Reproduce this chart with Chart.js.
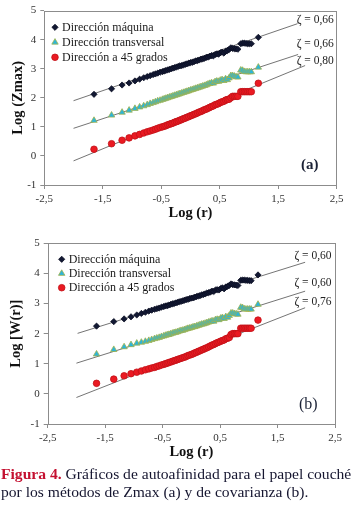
<!DOCTYPE html>
<html><head><meta charset="utf-8">
<script src="https://cdn.jsdelivr.net/npm/chart.js@4.4.1/dist/chart.umd.min.js"></script>
<style>
html,body{margin:0;padding:0;background:#fff;width:356px;height:506px;overflow:hidden;font-family:"Liberation Serif",serif;}
canvas{position:absolute;left:0;}
#ca{top:0;}
#cb{top:230px;}
#cap{position:absolute;left:1px;top:465px;width:356px;font-family:"Liberation Serif",serif;font-size:15.6px;line-height:18.3px;color:#161630;white-space:nowrap;}
#cap b{color:#c41030;}
</style></head>
<body>
<canvas id="ca" width="356" height="228"></canvas>
<canvas id="cb" width="356" height="236"></canvas>
<div id="cap"><b>Figura 4.</b> Gráficos de autoafinidad para el papel couché<br>por los métodos de Zmax (a) y de covarianza (b).</div>
<script>
// ---------- data ----------
const seriesNames = ['Dirección máquina', 'Dirección transversal', 'Dirección a 45 grados'];
const xTickLabels = ['-2,5', '-1,5', '-0,5', '0,5', '1,5', '2,5'];
const yTickLabels = ['-1', '0', '1', '2', '3', '4', '5'];

const logR = [-1.65,-1.35,-1.17,-1.05,-0.95, -0.87,-0.80,-0.74,-0.69,-0.64, -0.60,-0.56,-0.52,-0.48,-0.45,
  -0.42,-0.39,-0.36,-0.33,-0.30, -0.27,-0.24,-0.21,-0.18,-0.15, -0.12,-0.09,-0.06,-0.03,0.00,
  0.03,0.06,0.09,0.12,0.15, 0.18,0.21,0.24,0.27,0.30, 0.33,0.36,0.39,0.42,0.45,
  0.48,0.51,0.54,0.57,0.60, 0.63,0.66,0.69,0.72,0.75, 0.78,0.81,0.86,0.89,0.92, 0.95,0.98,1.01,1.04,1.16];

// (a) Log (Zmax)
const maqA = [2.12,2.31,2.44,2.51,2.58, 2.64,2.69,2.73,2.76,2.80, 2.82,2.85,2.88,2.90,2.92,
  2.94,2.96,2.98,3.00,3.02, 3.04,3.06,3.08,3.10,3.11, 3.13,3.15,3.17,3.19,3.21,
  3.22,3.24,3.27,3.28,3.30, 3.33,3.34,3.36,3.39,3.40, 3.43,3.45,3.44,3.49,3.51,
  3.50,3.55,3.57,3.54,3.60, 3.62,3.66,3.72,3.70,3.69, 3.68,3.67,3.86,3.88,3.88, 3.87,3.86,3.86,3.86,4.08];
const traA = [1.22,1.40,1.50,1.57,1.63, 1.68,1.72,1.76,1.80,1.83, 1.86,1.89,1.91,1.94,1.96,
  1.98,2.00,2.02,2.04,2.06, 2.08,2.10,2.12,2.14,2.16, 2.18,2.20,2.22,2.24,2.26,
  2.28,2.30,2.32,2.34,2.36, 2.38,2.40,2.42,2.44,2.47, 2.49,2.51,2.50,2.55,2.57,
  2.56,2.60,2.62,2.59,2.65, 2.62,2.68,2.76,2.76,2.74, 2.72,2.71,2.95,2.94,2.90, 2.89,2.89,2.89,2.89,3.05];
const d45A = [0.23,0.42,0.54,0.62,0.69, 0.74,0.79,0.83,0.86,0.89, 0.92,0.95,0.98,1.00,1.02,
  1.04,1.07,1.09,1.11,1.13, 1.16,1.18,1.20,1.23,1.25, 1.28,1.30,1.33,1.35,1.38,
  1.40,1.43,1.45,1.48,1.51, 1.53,1.56,1.59,1.61,1.64, 1.67,1.70,1.72,1.76,1.78,
  1.80,1.84,1.86,1.88,1.92, 1.94,1.95,2.00,2.05,2.05, 2.05,2.05,2.21,2.21,2.21, 2.21,2.21,2.21,2.21,2.50];

// (b) Log [W(r)]
const maqB = [2.25,2.40,2.49,2.56,2.62, 2.67,2.71,2.75,2.78,2.81, 2.83,2.85,2.88,2.90,2.92,
  2.93,2.95,2.97,2.99,3.00, 3.02,3.04,3.06,3.07,3.09, 3.11,3.13,3.14,3.16,3.18,
  3.19,3.21,3.23,3.25,3.26, 3.29,3.30,3.32,3.35,3.36, 3.38,3.41,3.40,3.45,3.46,
  3.45,3.50,3.52,3.49,3.55, 3.57,3.60,3.65,3.63,3.62, 3.61,3.60,3.77,3.78,3.78, 3.77,3.77,3.76,3.76,3.95];
const traB = [1.32,1.47,1.56,1.63,1.68, 1.71,1.74,1.77,1.80,1.83, 1.85,1.87,1.90,1.92,1.94,
  1.96,1.97,1.99,2.01,2.03, 2.04,2.06,2.08,2.10,2.11, 2.13,2.15,2.17,2.18,2.20,
  2.22,2.23,2.25,2.27,2.29, 2.31,2.32,2.34,2.36,2.38, 2.40,2.42,2.41,2.46,2.47,
  2.46,2.51,2.53,2.50,2.56, 2.54,2.60,2.68,2.68,2.66, 2.65,2.64,2.87,2.86,2.82, 2.81,2.81,2.81,2.81,2.97];
const d45B = [0.35,0.49,0.60,0.67,0.72, 0.76,0.80,0.83,0.86,0.88, 0.91,0.93,0.96,0.98,1.00,
  1.02,1.04,1.06,1.08,1.10, 1.12,1.14,1.16,1.18,1.20, 1.22,1.24,1.27,1.29,1.31,
  1.33,1.36,1.38,1.41,1.43, 1.46,1.48,1.51,1.53,1.56, 1.59,1.62,1.64,1.67,1.70,
  1.72,1.75,1.77,1.79,1.83, 1.85,1.87,1.97,2.00,2.00, 2.00,2.00,2.18,2.18,2.18, 2.18,2.18,2.18,2.18,2.45];

// fitted power-law lines (end points)
const fitMaqAx = [-2.0, 1.83], fitMaqAy = [1.90, 4.55];
const fitTraAx = [-2.0, 1.84], fitTraAy = [0.95, 3.49];
const fitD45Ax = [-2.0, 1.96], fitD45Ay = [-0.17, 3.11];
const fitMaqBx = [-1.98, 1.98], fitMaqBy = [2.01, 4.37];
const fitTraBx = [-2.0, 1.98], fitTraBy = [1.02, 3.41];
const fitD45Bx = [-2.0, 1.98], fitD45By = [-0.12, 2.86];

const zetaA = ['ζ = 0,66', 'ζ = 0,66', 'ζ = 0,80'];
const zetaB = ['ζ = 0,60', 'ζ = 0,60', 'ζ = 0,76'];

// ---------- drawing ----------
const SERIF = '"Liberation Serif", "Times New Roman", serif';

function pts(ys) { return logR.map((x, i) => ({x: x, y: ys[i]})); }
function line(xs, ys) { return xs.map((x, i) => ({x: x, y: ys[i]})); }

function drawMarker(ctx, style, x, y, r, fill, stroke) {
  ctx.beginPath();
  if (style === 'rectRot') {
    ctx.moveTo(x, y - r); ctx.lineTo(x + r, y); ctx.lineTo(x, y + r); ctx.lineTo(x - r, y); ctx.closePath();
  } else if (style === 'triangle') {
    const w = r * Math.sqrt(3);
    ctx.moveTo(x, y - r); ctx.lineTo(x + w / 2, y + r / 2); ctx.lineTo(x - w / 2, y + r / 2); ctx.closePath();
  } else {
    ctx.arc(x, y, r, 0, Math.PI * 2);
  }
  ctx.fillStyle = fill; ctx.fill();
  ctx.strokeStyle = stroke; ctx.lineWidth = 0.8; ctx.stroke();
}

const framePlugin = {
  id: 'frame',
  beforeDatasetsDraw(chart) {
    const {ctx, chartArea: a} = chart;
    ctx.save();
    ctx.strokeStyle = '#8c8c8c';
    ctx.lineWidth = 1;
    ctx.strokeRect(Math.round(a.left) + 0.5, Math.round(a.top) + 0.5, Math.round(a.right - a.left), Math.round(a.bottom - a.top));
    ctx.restore();
  }
};

const notesPlugin = {
  id: 'notes',
  afterDatasetsDraw(chart, args, o) {
    const {ctx, chartArea: a} = chart;
    const xs = chart.scales.x, ys = chart.scales.y;
    ctx.save();
    // zeta labels
    ctx.font = '11.5px ' + SERIF;
    ctx.fillStyle = '#222';
    ctx.textAlign = 'right';
    ctx.textBaseline = 'middle';
    o.zeta.forEach((t, i) => ctx.fillText(t, xs.getPixelForValue(o.zetaX), ys.getPixelForValue(o.zetaY[i])));
    // panel letter
    ctx.font = o.panelFont;
    ctx.fillStyle = '#1b2236';
    ctx.textAlign = 'center';
    ctx.fillText(o.panel, xs.getPixelForValue(o.panelX), ys.getPixelForValue(o.panelY));
    // legend
    ctx.font = '12px ' + SERIF;
    ctx.textAlign = 'left';
    chart.data.datasets.slice(0, 3).forEach((d, i) => {
      const y = a.top + o.legDy + i * o.legGap;
      const x = a.left + o.legDx;
      drawMarker(ctx, d.pointStyle, x, y, d.pointRadius, d.backgroundColor, d.borderColor);
      ctx.fillStyle = '#1a1a1a';
      ctx.fillText(d.label, x + 7, y + 0.5);
    });
    ctx.restore();
  }
};

function makeChart(id, cfg) {
  const fitStyle = {showLine: true, pointRadius: 0, borderColor: '#505050', borderWidth: 0.8, order: 10, fill: false};
  return new Chart(document.getElementById(id), {
    type: 'scatter',
    data: {
      datasets: [
        {label: seriesNames[0], data: pts(cfg.maq), pointStyle: 'rectRot', pointRadius: 3.1, backgroundColor: '#121833', borderColor: '#0a0e22', borderWidth: 0.8, order: 1},
        {label: seriesNames[1], data: pts(cfg.tra), pointStyle: 'triangle', pointRadius: 3.7, backgroundColor: '#2db5d8', borderColor: '#a2b24c', borderWidth: 0.8, order: 2},
        {label: seriesNames[2], data: pts(cfg.d45), pointStyle: 'circle', pointRadius: 3.3, backgroundColor: '#ea1a22', borderColor: '#c21218', borderWidth: 0.8, order: 3},
        Object.assign({label: 'fit1', data: line(cfg.f1x, cfg.f1y)}, fitStyle),
        Object.assign({label: 'fit2', data: line(cfg.f2x, cfg.f2y)}, fitStyle),
        Object.assign({label: 'fit3', data: line(cfg.f3x, cfg.f3y)}, fitStyle)
      ]
    },
    options: {
      responsive: false,
      animation: false,
      devicePixelRatio: 1,
      layout: {padding: cfg.pad},
      plugins: {
        legend: {display: false},
        tooltip: {enabled: false},
        notes: cfg.notes
      },
      scales: {
        x: {
          type: 'linear', min: -2.5, max: 2.5,
          ticks: {stepSize: 1, autoSkip: false, maxRotation: 0, padding: 4, color: '#333',
            font: {family: SERIF, size: 11},
            callback: (v, i) => xTickLabels[i]},
          grid: {drawOnChartArea: false, tickLength: 4, color: '#8c8c8c'},
          border: {display: false},
          title: {display: true, text: 'Log (r)', color: '#111', font: {family: SERIF, size: 14.5, weight: 'bold'},
            padding: {top: 0, bottom: cfg.xTitlePad}},
          afterFit(s) { s.height = cfg.xh; }
        },
        y: {
          type: 'linear', min: -1, max: 5,
          ticks: {stepSize: 1, padding: 4, color: '#333', font: {family: SERIF, size: 11},
            callback: (v, i) => yTickLabels[i]},
          grid: {drawOnChartArea: false, tickLength: 4, color: '#8c8c8c'},
          border: {display: false},
          title: {display: true, text: cfg.yTitle, color: '#111', font: {family: SERIF, size: 14.5, weight: 'bold'},
            padding: {top: cfg.yTitlePad, bottom: 0}},
          afterFit(s) { s.width = cfg.yw; }
        }
      }
    },
    plugins: [framePlugin, notesPlugin]
  });
}

function build() {
  makeChart('ca', {
    maq: maqA, tra: traA, d45: d45A,
    f1x: fitMaqAx, f1y: fitMaqAy, f2x: fitTraAx, f2y: fitTraAy, f3x: fitD45Ax, f3y: fitD45Ay,
    pad: {left: 0, top: 6, right: 19.3, bottom: 0},
    xh: 43, yw: 44.3, xTitlePad: 6.3, yTitlePad: 9.6, yTitle: 'Log (Zmax)',
    notes: {zeta: zetaA, zetaX: 2.45, zetaY: [4.68, 3.86, 3.25], panel: '(a)', panelX: 2.04, panelY: -0.31,
      panelFont: 'bold 15px ' + SERIF, legDx: 10.7, legDy: 16.7, legGap: 15}
  });
  makeChart('cb', {
    maq: maqB, tra: traB, d45: d45B,
    f1x: fitMaqBx, f1y: fitMaqBy, f2x: fitTraBx, f2y: fitTraBy, f3x: fitD45Bx, f3y: fitD45By,
    pad: {left: 0, top: 13.3, right: 21, bottom: 0},
    xh: 42, yw: 47.7, xTitlePad: 4.6, yTitlePad: 8, yTitle: 'Log [W(r)]',
    notes: {zeta: zetaB, zetaX: 2.44, zetaY: [4.58, 3.67, 3.06], panel: '(b)', panelX: 2.035, panelY: -0.36,
      panelFont: '16px ' + SERIF, legDx: 14, legDy: 16, legGap: 14.2}
  });
}

if (document.fonts && document.fonts.load) {
  Promise.all([
    document.fonts.load('12px "Liberation Serif"'),
    document.fonts.load('bold 12px "Liberation Serif"')
  ]).then(build, build);
} else {
  build();
}
</script>
</body></html>
